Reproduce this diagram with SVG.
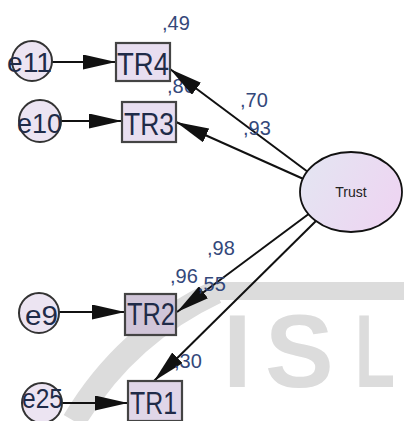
<svg xmlns="http://www.w3.org/2000/svg" width="404" height="421" viewBox="0 0 404 421">
<defs>
<style>
.lv{fill:#ece4f2;stroke:#333;stroke-width:2}
.bx{fill:#e8def0;stroke:#444;stroke-width:2.2}
.nt{font-family:"Liberation Sans",Arial,sans-serif;fill:#1f2b48}
.bt{font-size:31px}
.et{font-size:27px}
.lb{font-family:"Liberation Sans",Arial,sans-serif;font-size:20px;fill:#34487a}
.cn{stroke:#111;stroke-width:2;fill:none;marker-end:url(#ah)}
.wm{fill:#dcdcdc}
.wt{font-family:"Liberation Sans",Arial,sans-serif;font-weight:bold;font-size:103px}
</style>
<marker id="ah" markerUnits="userSpaceOnUse" markerWidth="33" markerHeight="15" refX="33" refY="7.5" orient="auto">
<path d="M0,0 L33,7.5 L0,15 z" fill="#111"/>
</marker>
<linearGradient id="tg" x1="0" y1="0" x2="1" y2="0.4">
<stop offset="0" stop-color="#e3e6f2"/>
<stop offset="1" stop-color="#edd6f2"/>
</linearGradient>
</defs>
<rect width="404" height="421" fill="#fff"/>
<g id="watermark">
<path class="wm" d="M212,282 L404,282 L404,300 L205,300 z"/>
<path d="M216,292 Q125,335 74,421" stroke="#dcdcdc" stroke-width="24" fill="none"/>
<text class="wm wt" x="223 265" y="387">IS</text>
<text class="wm wt" x="355" y="387" textLength="40" lengthAdjust="spacingAndGlyphs">L</text>
</g>
<g id="r2labels">
<text class="lb" x="167" y="93">,86</text>
</g>
<g id="connectors">
<line class="cn" x1="52" y1="62" x2="116" y2="62"/>
<line class="cn" x1="61" y1="121" x2="122" y2="121"/>
<line class="cn" x1="59" y1="312" x2="125" y2="312"/>
<line class="cn" x1="61" y1="403" x2="128" y2="403"/>
<line class="cn" x1="312" y1="175" x2="170" y2="69"/>
<line class="cn" x1="308" y1="181" x2="176" y2="122"/>
<line class="cn" x1="310" y1="213" x2="177" y2="312"/>
<line class="cn" x1="320" y1="217" x2="154" y2="381"/>
</g>
<g id="e11"><circle class="lv" cx="32" cy="61" r="20"/><text class="nt et" x="7" y="72" textLength="45" lengthAdjust="spacingAndGlyphs">e11</text></g>
<g id="e10"><circle class="lv" cx="40" cy="121" r="21"/><text class="nt et" x="17" y="133" textLength="45" lengthAdjust="spacingAndGlyphs">e10</text></g>
<g id="e9"><circle class="lv" cx="39" cy="313" r="20"/><text class="nt et" x="25" y="325" textLength="33" lengthAdjust="spacingAndGlyphs">e9</text></g>
<g id="e25"><circle class="lv" cx="42" cy="403" r="20"/><text class="nt et" x="22" y="408" textLength="41" lengthAdjust="spacingAndGlyphs">e25</text></g>
<g id="TR4"><rect class="bx" x="116" y="43" width="54" height="38"/><text class="nt bt" x="117" y="75" textLength="52" lengthAdjust="spacingAndGlyphs">TR4</text></g>
<g id="TR3"><rect class="bx" x="122" y="102" width="54" height="40"/><text class="nt bt" x="124" y="135" textLength="50" lengthAdjust="spacingAndGlyphs">TR3</text></g>
<g id="TR2"><rect class="bx" x="125" y="294" width="51" height="41" style="fill:#d0c5d8"/><text class="nt bt" x="127" y="325" textLength="48" lengthAdjust="spacingAndGlyphs">TR2</text></g>
<g id="TR1"><rect class="bx" x="128" y="381" width="54" height="40" style="fill:#e0d6e8"/><text class="nt bt" x="130" y="414" textLength="47" lengthAdjust="spacingAndGlyphs">TR1</text></g>
<g id="Trust"><ellipse cx="351" cy="192" rx="51" ry="40" fill="url(#tg)" stroke="#111" stroke-width="1.8"/><text x="351" y="197" text-anchor="middle" style="font-family:'Liberation Sans',Arial,sans-serif;font-size:14px;fill:#222">Trust</text></g>
<g id="labels">
<text class="lb" x="162" y="30">,49</text>
<text class="lb" x="240" y="107">,70</text>
<text class="lb" x="243" y="135">,93</text>
<text class="lb" x="207" y="255">,98</text>
<text class="lb" x="170" y="283">,96</text>
<text class="lb" x="198" y="291">,55</text>
<text class="lb" x="174" y="368">,30</text>
</g>
</svg>
